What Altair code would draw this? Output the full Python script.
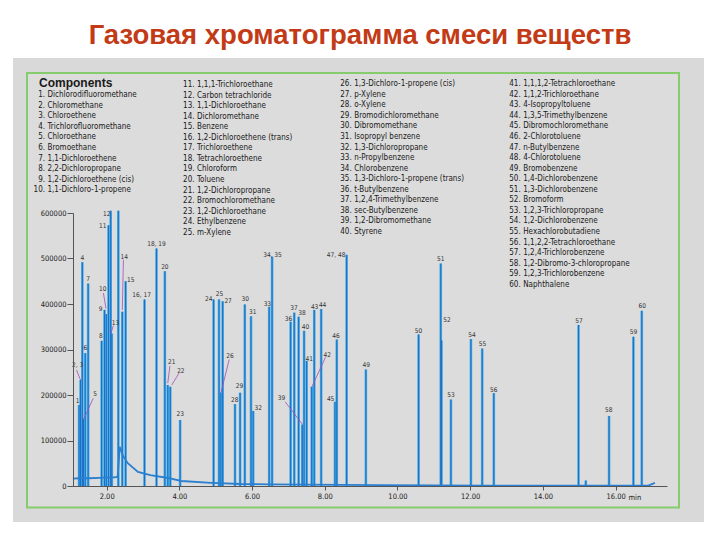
import altair as alt
import pandas as pd

# ---------------- data ----------------
title_text = "Газовая хроматограмма смеси веществ"

component_names = [
    "Dichlorodifluoromethane", "Chloromethane", "Chloroethene", "Trichlorofluoromethane",
    "Chloroethane", "Bromoethane", "1,1-Dichloroethene", "2,2-Dichloropropane",
    "1,2-Dichloroethene (cis)", "1,1-Dichloro-1-propene",
    "1,1,1-Trichloroethane", "Carbon tetrachloride", "1,1-Dichloroethane", "Dichloromethane",
    "Benzene", "1,2-Dichloroethene (trans)", "Trichloroethene", "Tetrachloroethene",
    "Chloroform", "Toluene", "1,2-Dichloropropane", "Bromochloromethane",
    "1,2-Dichloroethane", "Ethylbenzene", "m-Xylene",
    "1,3-Dichloro-1-propene (cis)", "p-Xylene", "o-Xylene", "Bromodichloromethane",
    "Dibromomethane", "Isopropyl benzene", "1,3-Dichloropropane", "n-Propylbenzene",
    "Chlorobenzene", "1,3-Dichloro-1-propene (trans)", "t-Butylbenzene",
    "1,2,4-Trimethylbenzene", "sec-Butylbenzene", "1,2-Dibromomethane", "Styrene",
    "1,1,1,2-Tetrachloroethane", "1,1,2-Trichloroethane", "4-Isopropyltoluene",
    "1,3,5-Trimethylbenzene", "Dibromochloromethane", "2-Chlorotoluene", "n-Butylbenzene",
    "4-Chlorotoluene", "Bromobenzene", "1,4-Dichlorobenzene", "1,3-Dichlorobenzene",
    "Bromoform", "1,2,3-Trichloropropane", "1,2-Dichlorobenzene", "Hexachlorobutadiene",
    "1,1,2,2-Tetrachloroethane", "1,2,4-Trichlorobenzene", "1,2-Dibromo-3-chloropropane",
    "1,2,3-Trichlorobenzene", "Naphthalene",
]
legend_columns = [(1, 10), (11, 25), (26, 40), (41, 60)]

# peaks: retention time (min) and height (counts)
peak_rt = [1.24, 1.28, 1.33, 1.36, 1.41, 1.49, 1.86, 1.94, 1.99, 2.05, 2.11, 2.14,
           2.32, 2.43, 2.52, 3.04, 3.37, 3.60, 3.68, 3.75, 4.02, 4.94, 5.09, 5.14,
           5.19, 5.53, 5.67, 5.80, 5.97, 6.03, 6.47, 6.55, 7.06, 7.16, 7.28, 7.38,
           7.43, 7.50, 7.64, 7.71, 7.90, 8.28, 8.33, 8.60, 9.13, 10.58, 11.19, 11.21,
           11.47, 12.02, 12.33, 12.65, 14.98, 15.18, 15.82, 16.49, 16.72]
peak_height = [178000, 233000, 492000, 148000, 292000, 445000, 319000, 387000, 378000,
               573000, 605000, 335000, 605000, 383000, 450000, 410000, 522000, 472000,
               222000, 218000, 145000, 410000, 410000, 205000, 406000, 180000, 205000,
               399000, 373000, 165000, 394000, 504000, 361000, 381000, 372000, 135000,
               341000, 275000, 218000, 387000, 389000, 185000, 322000, 508000, 256000,
               333000, 489000, 320000, 190000, 323000, 302000, 204000, 354000, 12000,
               154000, 328000, 385000]
peak_half_width = 0.075  # minutes

# baseline (incl. solvent tail)
base_t = [1.07, 1.25, 1.5, 1.8, 2.0, 2.2, 2.30, 2.36, 2.45, 2.58, 2.86, 3.2, 3.69,
          4.05, 4.88, 5.7, 6.5, 7.5, 8.5, 9.5, 11.0, 12.5, 14.0, 15.5, 16.9, 17.08]
base_v = [16000, 17000, 17000, 18000, 19000, 19000, 20000, 86000, 66000, 50000,
          31000, 24000, 17600, 11000, 7000, 4400, 3500, 3000, 2500, 2000, 1500,
          1000, 500, 500, 1000, 7000]

# peak labels (text, time, value at label centre)
label_text = ["1", "2, 3", "4", "5", "6", "7", "8", "9", "10", "11", "12", "13", "14",
              "15", "16, 17", "18, 19", "20", "21", "22", "23", "24", "25", "26", "27",
              "28", "29", "30", "31", "32", "33", "34, 35", "36", "37", "38", "39",
              "40", "41", "42", "43", "44", "45", "46", "47, 48", "49", "50", "51",
              "52", "53", "54", "55", "56", "57", "58", "59", "60"]
label_t = [1.20, 1.20, 1.33, 1.68, 1.41, 1.49, 1.84, 1.83, 1.89, 1.89, 2.00, 2.24,
           2.48, 2.66, 2.96, 3.37, 3.60, 3.79, 4.04, 4.02, 4.81, 5.10, 5.39, 5.34,
           5.52, 5.65, 5.81, 6.02, 6.17, 6.42, 6.56, 7.00, 7.15, 7.37, 6.81, 7.47,
           7.57, 8.07, 7.72, 7.94, 8.16, 8.31, 8.31, 9.14, 10.58, 11.19, 11.36,
           11.47, 12.05, 12.34, 12.65, 14.99, 15.81, 16.49, 16.73]
label_v = [187000, 266000, 502000, 202000, 303000, 455000, 330000, 390000, 432000,
           571000, 597000, 359000, 504000, 453000, 420000, 531000, 482000, 272000,
           253000, 158000, 410000, 421000, 286000, 407000, 189000, 220000, 412000,
           382000, 172000, 401000, 508000, 368000, 391000, 381000, 193000, 349000,
           279000, 288000, 394000, 398000, 191000, 330000, 508000, 266000, 341000,
           498000, 365000, 200000, 332000, 313000, 212000, 363000, 167000, 338000,
           396000]

# leader lines from label to peak
lead_t1 = [1.17, 1.63, 1.91, 2.18, 2.46, 3.74, 3.99, 5.37, 6.91, 8.02]
lead_v1 = [255000, 193000, 424000, 352000, 497000, 264000, 248000, 278000, 185000, 283000]
lead_t2 = [1.28, 1.36, 1.98, 2.12, 2.43, 3.68, 3.79, 5.14, 7.38, 7.64]
lead_v2 = [233000, 145000, 390000, 336000, 387000, 226000, 222000, 204000, 136000, 217000]

x_ticks = [2, 4, 6, 8, 10, 12, 14, 16]
y_ticks = [0, 100000, 200000, 300000, 400000, 500000, 600000]

# ---------------- styles ----------------
NARROW = "DejaVu Sans Condensed, Liberation Sans Narrow, sans-serif"
SANS = "Liberation Sans, Arial, sans-serif"
W, H = 594, 273
X_DOMAIN = [1.073, 17.414]

xs = alt.Scale(domain=X_DOMAIN, nice=False, zero=False)
ys = alt.Scale(domain=[0, 600000], nice=False)
xaxis = alt.Axis(values=x_ticks, labelExpr="format(datum.value, '.2f')", title=None,
                 grid=False, tickSize=4, labelPadding=2, labelFontSize=7.5,
                 labelFont=NARROW, labelColor="#1a1a1a", domainColor="#555",
                 tickColor="#555", labelFlush=False, zindex=1)
yaxis = alt.Axis(values=y_ticks, format="d", title=None, grid=False, tickSize=6,
                 labelPadding=1, labelFontSize=7.5, labelFont=NARROW,
                 labelColor="#1a1a1a", domainColor="#555", tickColor="#555", zindex=1)

def X(field):
    return alt.X(field, type="quantitative", scale=xs, axis=xaxis)

def Y(field):
    return alt.Y(field, type="quantitative", scale=ys, axis=yaxis)

one = pd.DataFrame({"a": [0]})

# ---------------- decorations ----------------
gray_panel = alt.Chart(one).mark_rect(color="#d9d9d9").encode(
    x=alt.value(-60), x2=alt.value(631), y=alt.value(-155), y2=alt.value(309))
green_box = alt.Chart(one).mark_rect(fill="#dcdcdc", stroke="#86cc6c", strokeWidth=2).encode(
    x=alt.value(-46), x2=alt.value(606), y=alt.value(-140), y2=alt.value(294.5))
title = alt.Chart(one).mark_text(
    text=title_text, font=SANS,
    fontSize=27.5, fontWeight="bold", color="#c23a16", align="center", baseline="alphabetic"
).encode(x=alt.value(287), y=alt.value(-169))

heading = alt.Chart(one).mark_text(
    text="Components", font=SANS, fontSize=12, fontWeight="bold", color="#1a1a1a",
    align="left", baseline="middle").encode(x=alt.value(-34), y=alt.value(-130.5))

col_num_x = [-28, 121.5, 278.7, 447.7]
col_y0 = [-118.7, -129, -129.7, -129.7]
LINE_H = 10.55
legend_layers = []
for (a, b), nx, y0 in zip(legend_columns, col_num_x, col_y0):
    nums = [f"{i}." for i in range(a, b + 1)]
    names = component_names[a - 1:b]
    legend_layers.append(alt.Chart(one).mark_text(
        text=nums, font=NARROW, fontSize=8, color="#1a1a1a", align="right",
        baseline="alphabetic", lineHeight=LINE_H).encode(x=alt.value(nx), y=alt.value(y0 + 3)))
    legend_layers.append(alt.Chart(one).mark_text(
        text=names, font=NARROW, fontSize=8, color="#1a1a1a", align="left",
        baseline="alphabetic", lineHeight=LINE_H).encode(x=alt.value(nx + 2.5), y=alt.value(y0 + 3)))

# ---------------- chromatogram ----------------
rows = []
for k, (t, h) in enumerate(zip(peak_rt, peak_height)):
    rows += [{"pk": k, "t": t - peak_half_width, "v": 0},
             {"pk": k, "t": t, "v": h},
             {"pk": k, "t": t + peak_half_width, "v": 0}]
tri = pd.DataFrame(rows)
peaks_df = pd.DataFrame({"t": peak_rt, "v": peak_height})
base_df = pd.DataFrame({"t": base_t, "v": base_v})
labels_df = pd.DataFrame({"t": label_t, "v": label_v, "txt": label_text})
leads_df = pd.DataFrame({"t1": lead_t1, "v1": lead_v1, "t2": lead_t2, "v2": lead_v2})

peak_area = alt.Chart(tri).mark_area(color="#5ab8ea", opacity=0.9).encode(
    x=X("t"), y=Y("v"), detail="pk:N", order="t:Q")
peak_glow = alt.Chart(peaks_df).mark_rule(color="#4aaee6", strokeWidth=2.6).encode(
    x=X("t"), y=Y("v"), y2=alt.datum(0))
peak_core = alt.Chart(peaks_df).mark_rule(color="#1c6fc4", strokeWidth=1.1).encode(
    x=X("t"), y=Y("v"), y2=alt.datum(0))
baseline = alt.Chart(base_df).mark_line(color="#2a7fd0", strokeWidth=1.8).encode(
    x=X("t"), y=Y("v"))
leads = alt.Chart(leads_df).mark_rule(color="#a24cb8", strokeWidth=0.8).encode(
    x=X("t1"), y=Y("v1"), x2="t2:Q", y2="v2:Q")
labels = alt.Chart(labels_df).mark_text(font=NARROW, fontSize=6.5, color="#333",
                                        baseline="middle", align="center").encode(
    x=X("t"), y=Y("v"), text="txt:N")
min_text = alt.Chart(one).mark_text(text="min", font=NARROW, fontSize=7.5, color="#1a1a1a",
                                    align="left", baseline="middle").encode(
    x=alt.value(555.5), y=alt.value(284.7))

chart = alt.layer(
    gray_panel, green_box, title, heading, *legend_layers,
    peak_area, peak_glow, peak_core, baseline, leads, labels, min_text
).properties(
    width=W, height=H,
    autosize=alt.AutoSizeParams(type="none"),
    padding={"left": 65, "top": 205, "right": 45, "bottom": 46},
    background="white",
).configure_view(stroke=None)

chart.save("out.html", embed_options={"renderer": "svg", "actions": False})
